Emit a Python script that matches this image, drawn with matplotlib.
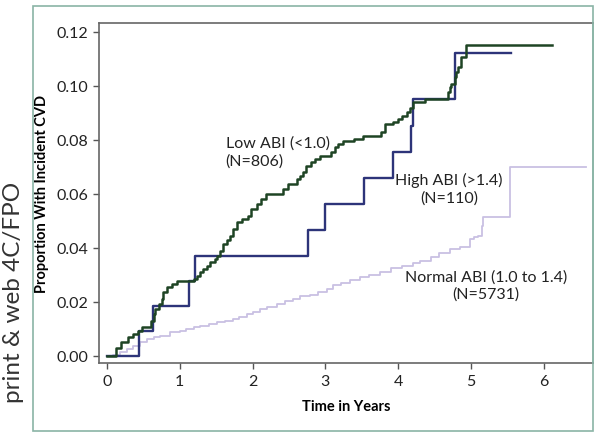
import matplotlib
matplotlib.use("Agg")
import matplotlib.pyplot as plt
from matplotlib.patches import Rectangle

plt.rcParams['font.family'] = ['Lato', 'DejaVu Sans']

# Low ABI (<1.0), N=806
low_t = [0, 0.12, 0.19, 0.29, 0.36, 0.43, 0.48, 0.61, 0.64, 0.66, 0.72, 0.75, 0.77,
         0.82, 0.89, 0.96, 1.19, 1.24, 1.28, 1.32, 1.37, 1.41, 1.48, 1.51, 1.55,
         1.60, 1.65, 1.69, 1.73, 1.78, 1.85, 1.94, 1.98, 2.06, 2.12, 2.19, 2.42,
         2.49, 2.61, 2.65, 2.70, 2.74, 2.80, 2.86, 2.93, 3.08, 3.13, 3.17, 3.25,
         3.40, 3.52, 3.77, 3.82, 3.93, 4.00, 4.05, 4.12, 4.16, 4.20, 4.37, 4.69,
         4.71, 4.73, 4.78, 4.80, 4.83, 4.87, 4.94]
low_y = [0, 0.0028, 0.0050, 0.0069, 0.0081, 0.0094, 0.0106, 0.0131, 0.0156, 0.0174,
         0.0192, 0.0211, 0.0236, 0.0254, 0.0267, 0.0277, 0.0285, 0.0298, 0.0310,
         0.0322, 0.0334, 0.0347, 0.0359, 0.0371, 0.0390, 0.0415, 0.0430, 0.0445,
         0.0470, 0.0495, 0.0507, 0.0520, 0.0544, 0.0563, 0.0580, 0.0600, 0.0619,
         0.0637, 0.0656, 0.0668, 0.0680, 0.0705, 0.0718, 0.0730, 0.0742, 0.0755,
         0.0773, 0.0785, 0.0797, 0.0805, 0.0816, 0.0828, 0.0859, 0.0865, 0.0878,
         0.0890, 0.0902, 0.0920, 0.0939, 0.0952, 0.0976, 0.0995, 0.1007, 0.1032,
         0.1050, 0.1069, 0.1106, 0.1153]
low_end = 6.11

# High ABI (>1.4), N=110
high_t = [0, 0.44, 0.63, 1.13, 1.21, 2.76, 2.99, 3.53, 3.93, 4.18, 4.21, 4.78]
high_y = [0, 0.0093, 0.0185, 0.0277, 0.0371, 0.0467, 0.0563, 0.0660, 0.0754,
          0.0853, 0.0952, 0.1122]
high_end = 5.55

# Normal ABI (1.0 to 1.4), N=5731
norm_t = [0.08, 0.18, 0.27, 0.36, 0.45, 0.55, 0.64, 0.73, 0.87, 1.00, 1.09, 1.20,
          1.28, 1.40, 1.51, 1.62, 1.73, 1.82, 1.92, 2.00, 2.10, 2.20, 2.33, 2.45,
          2.56, 2.65, 2.79, 2.90, 3.02, 3.11, 3.22, 3.34, 3.48, 3.60, 3.75, 3.90,
          4.05, 4.20, 4.30, 4.45, 4.57, 4.71, 4.85, 4.99, 5.05, 5.10, 5.15, 5.17,
          5.54]
norm_y = [0.0005, 0.0014, 0.0026, 0.0038, 0.0050, 0.0063, 0.0070, 0.0075, 0.0088,
          0.0094, 0.0100, 0.0106, 0.0112, 0.0118, 0.0125, 0.0130, 0.0137, 0.0145,
          0.0156, 0.0164, 0.0174, 0.0182, 0.0193, 0.0202, 0.0211, 0.0223, 0.0226,
          0.0236, 0.0248, 0.0262, 0.0272, 0.0283, 0.0291, 0.0300, 0.0310, 0.0325,
          0.0335, 0.0345, 0.0350, 0.0365, 0.0380, 0.0396, 0.0405, 0.0433, 0.0440,
          0.0446, 0.0483, 0.0514, 0.0699]
norm_end = 6.59

fig = plt.figure(figsize=(6.01, 4.39), dpi=100)
ax = fig.add_axes([99/601, 1 - 364/439, 494/601, 340/439])

ax.step([0] + norm_t + [norm_end], [0] + norm_y + [norm_y[-1]], where='post',
        color='#c9c0e3', lw=1.3, zorder=2)
ax.step(high_t + [high_end], high_y + [high_y[-1]], where='post',
        color='#2d3479', lw=1.7, zorder=3)
ax.step(low_t + [low_end], low_y + [low_y[-1]], where='post',
        color='#1e4424', lw=1.8, zorder=4)

ax.set_xlim(-0.11, 6.68)
ax.set_ylim(-0.0026, 0.1233)
ax.set_xticks(range(7))
ax.set_yticks([0, 0.02, 0.04, 0.06, 0.08, 0.10, 0.12])
ax.set_yticklabels(['0.00', '0.02', '0.04', '0.06', '0.08', '0.10', '0.12'])
ax.tick_params(direction='out', length=4, width=1, color='#555555',
               labelsize=11.5, labelcolor='#222222', pad=4)

for s in ['left', 'top', 'bottom']:
    ax.spines[s].set_color('#666666')
    ax.spines[s].set_linewidth(1.2)
ax.spines['right'].set_color('#8ab4a6')
ax.spines['right'].set_linewidth(1.2)

ax.set_xlabel('Time in Years', fontsize=10.5, fontweight='bold', labelpad=8)
ax.set_ylabel('Proportion With Incident CVD', fontsize=10.5, fontweight='bold',
              labelpad=5)

ax.text(1.63, 0.0757, 'Low ABI (<1.0)\n(N=806)', fontsize=11.5, ha='left',
        va='center', color='#222222', linespacing=1.3)
ax.text(4.70, 0.0620, 'High ABI (>1.4)\n(N=110)', fontsize=11.5, ha='center',
        va='center', color='#222222', linespacing=1.3)
ax.text(5.21, 0.0263, 'Normal ABI (1.0 to 1.4)\n(N=5731)', fontsize=11.5,
        ha='center', va='center', color='#222222', linespacing=1.3)

fig.patches.append(Rectangle((33/601, 7/439), 560/601, 425/439,
                             transform=fig.transFigure, fill=False,
                             edgecolor='#8ab4a6', lw=1.2))

fig.text(14/601, 1 - 292/439, 'print & web 4C/FPO', rotation=90, fontsize=17.5,
         ha='center', va='center', color='#333333')

fig.savefig('out.png', dpi=100)
